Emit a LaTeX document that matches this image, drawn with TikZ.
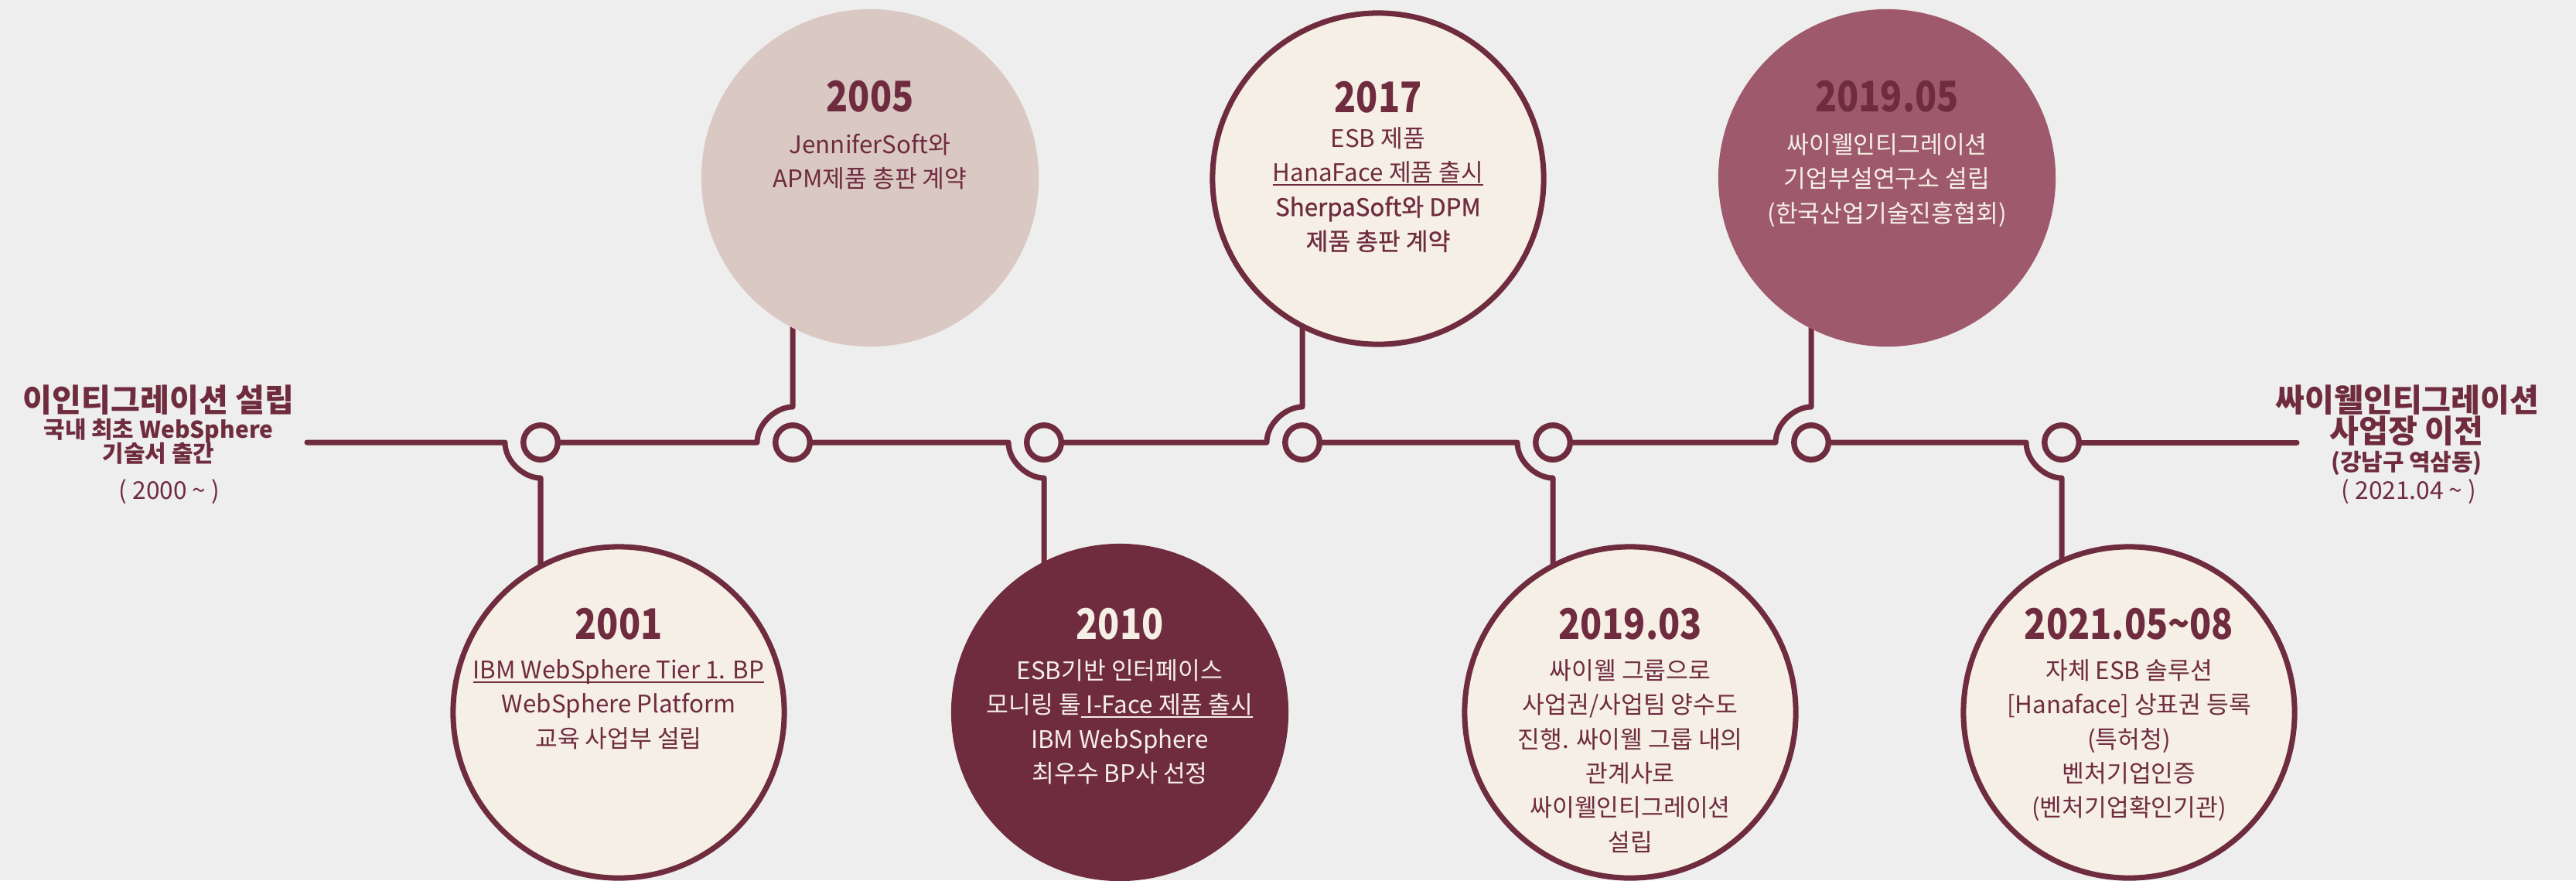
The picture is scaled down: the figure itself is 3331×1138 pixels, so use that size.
\documentclass[tikz,border=0pt]{standalone}
\usepackage{fontspec}
\usepackage{graphicx}
\setmainfont{Noto Sans CJK KR}
\newfontfamily\medfont{Noto Sans CJK KR}[FakeBold=0.8]
\definecolor{bg}{HTML}{EEEEEE}
\definecolor{maroon}{HTML}{6F2C3F}
\definecolor{cream}{HTML}{F5EFE5}
\definecolor{pinkc}{HTML}{DAC8C3}
\definecolor{mauve}{HTML}{9E5A6C}
\newcommand\myul[1]{\setbox0\hbox{#1}\rlap{\rule[-0.16em]{\wd0}{0.5pt}}\box0}
\begin{document}
\begin{tikzpicture}[x=0.01cm,y=-0.01cm,
  ring/.style={circle, draw=maroon, line width=2.1pt, minimum size=0.445cm, inner sep=0pt},
  tline/.style={draw=maroon, line width=2pt, line cap=round, line join=round},
  filledc/.style={circle, minimum size=4.36cm, inner sep=0pt},
  outl/.style={circle, minimum size=4.28cm, inner sep=0pt, draw=maroon, line width=2pt, fill=cream},
  yr/.style={font=\bfseries\fontsize{15.5}{18}\selectfont, inner sep=0pt, text=maroon},
  bodyt/.style={font=\fontsize{8.9}{12.6}\selectfont, align=center, inner sep=0pt, anchor=north, text=maroon},
  bigt/.style={font=\bfseries\fontsize{11.7}{13}\selectfont, inner sep=0pt, text=maroon},
  midt/.style={font=\bfseries\fontsize{8.5}{10}\selectfont, inner sep=0pt, text=maroon},
  datet/.style={font=\fontsize{9}{11}\selectfont, inner sep=0pt, text=maroon},
]
\fill[bg] (0,0) rectangle (3331,1138);
\useasboundingbox (0,0) rectangle (3331,1138);

% circle centres
\coordinate (p1) at (800,921);
\coordinate (p2) at (1125,230);
\coordinate (p3) at (1448,921);
\coordinate (p4) at (1782,231);
\coordinate (p5) at (2108,921);
\coordinate (p6) at (2440,230);
\coordinate (p7) at (2753,921);

% rings
\node[ring] (r1) at (699,572) {};
\node[ring] (r2) at (1025,572) {};
\node[ring] (r3) at (1350,572) {};
\node[ring] (r4) at (1684,572) {};
\node[ring] (r5) at (2008,572) {};
\node[ring] (r6) at (2342,572) {};
\node[ring] (r7) at (2666,572) {};

\coordinate (start) at (397,572);
\coordinate (finish) at (2970,572);
\coordinate (a1) at (653,572);  \coordinate (b1) at (699,618);
\coordinate (a2) at (979,572);  \coordinate (b2) at (1025,526);
\coordinate (a3) at (1304,572); \coordinate (b3) at (1350,618);
\coordinate (a4) at (1638,572); \coordinate (b4) at (1684,526);
\coordinate (a5) at (1962,572); \coordinate (b5) at (2008,618);
\coordinate (a6) at (2296,572); \coordinate (b6) at (2342,526);
\coordinate (a7) at (2620,572); \coordinate (b7) at (2666,618);

% timeline with junctions
\draw[tline] (start) -- (a1) .. controls (653,597) and (678,618) .. (b1) -- (r1 |- p1);
\draw[tline] (r1.east) -- (a2) .. controls (979,547) and (1004,526) .. (b2) -- (r2 |- p2);
\draw[tline] (r2.east) -- (a3) .. controls (1304,597) and (1329,618) .. (b3) -- (r3 |- p3);
\draw[tline] (r3.east) -- (a4) .. controls (1638,547) and (1663,526) .. (b4) -- (r4 |- p4);
\draw[tline] (r4.east) -- (a5) .. controls (1962,597) and (1987,618) .. (b5) -- (r5 |- p5);
\draw[tline] (r5.east) -- (a6) .. controls (2296,547) and (2321,526) .. (b6) -- (r6 |- p6);
\draw[tline] (r6.east) -- (a7) .. controls (2620,597) and (2645,618) .. (b7) -- (r7 |- p7);
\draw[tline] (r7.east) -- (finish);

% big circles
\node[outl] (c1) at (p1) {};
\node[filledc, fill=pinkc] (c2) at (p2) {};
\node[filledc, fill=maroon] (c3) at (p3) {};
\node[outl] (c4) at (p4) {};
\node[outl] (c5) at (p5) {};
\node[filledc, fill=mauve] (c6) at (p6) {};
\node[outl] (c7) at (p7) {};

% years
\node[yr] (y1) at (800,807) {\scalebox{0.85}[1]{2001}};
\node[yr] (y2) at (1125,125) {\scalebox{0.85}[1]{2005}};
\node[yr, text=cream] (y3) at (1448,807) {\scalebox{0.85}[1]{2010}};
\node[yr] (y4) at (1782,126) {\scalebox{0.85}[1]{2017}};
\node[yr] (y5) at (2108,807) {\scalebox{0.85}[1]{2019.03}};
\node[yr] (y6) at (2440,125) {\scalebox{0.85}[1]{2019.05}};
\node[yr] (y7) at (2753,807) {\scalebox{0.85}[1]{2021.05\textasciitilde08}};

% bodies
\node[bodyt] (t1) at (800,852) {\myul{IBM WebSphere Tier 1. BP}\\WebSphere Platform\\교육 사업부 설립};
\node[bodyt] (t2) at (1125,172) {JenniferSoft와\\APM제품 총판 계약};
\node[bodyt, text=cream] (t3) at (1448,852) {ESB기반 인터페이스\\모니링 툴\myul{ I-Face 제품 출시}\\IBM WebSphere\\최우수 BP사 선정};
\node[bodyt] (t4) at (1782,164) {ESB 제품\\\myul{HanaFace 제품 출시}\\{\medfont SherpaSoft와 DPM}\\{\medfont 제품 총판 계약}};
\node[bodyt] (t5) at (2108,852) {싸이웰 그룹으로\\사업권/사업팀 양수도\\진행. 싸이웰 그룹 내의\\관계사로\\싸이웰인티그레이션\\설립};
\node[bodyt, text=cream] (t6) at (2440,172) {싸이웰인티그레이션\\기업부설연구소 설립\\(한국산업기술진흥협회)};
\node[bodyt] (t7) at (2753,852) {자체 ESB 솔루션\\{[}Hanaface{]} 상표권 등록\\(특허청)\\벤처기업인증\\(벤처기업확인기관)};

% left label
\node[bigt] (l1) at (205,517) {이인티그레이션 설립};
\node[midt] (l2) at (205,557) {국내 최초 WebSphere};
\node[midt] (l3) at (205,586) {기술서 출간};
\node[datet] (l4) at (219,636) {( 2000 \textasciitilde{} )};

% right label
\node[bigt] (q1) at (3113,517) {싸이웰인티그레이션};
\node[bigt] (q2) at (3112,557) {사업장 이전};
\node[midt] (q3) at (3112,599) {(강남구 역삼동)};
\node[datet] (q4) at (3115,636) {( 2021.04 \textasciitilde{} )};
\end{tikzpicture}
\end{document}
